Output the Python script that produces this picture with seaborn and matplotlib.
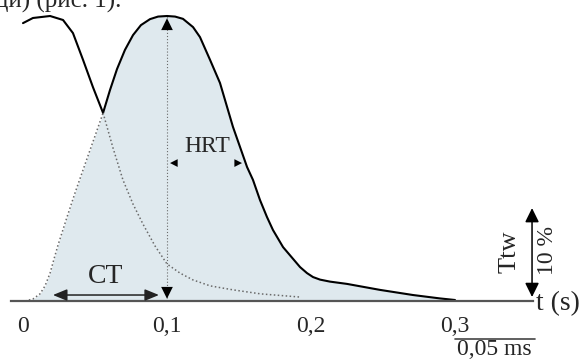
import matplotlib
matplotlib.use('Agg')
import matplotlib.pyplot as plt
import pandas as pd
import seaborn as sns

# Twitch being measured: time (s) and force (% of peak)
twitch_t = [0.0014, 0.0069, 0.0118, 0.0153, 0.0188, 0.0215, 0.0243, 0.0306, 0.0361,
            0.0417, 0.0451, 0.0500, 0.0556, 0.0604, 0.0653, 0.0708, 0.0764, 0.0819,
            0.0882, 0.0938, 0.1000, 0.1056, 0.1111, 0.1181, 0.1229, 0.1299, 0.1368,
            0.1458, 0.1556, 0.1597, 0.1646, 0.1694, 0.1736, 0.1806, 0.1924, 0.1972,
            0.2014, 0.2063, 0.2132, 0.2250, 0.2479, 0.2708, 0.2896, 0.3000]
twitch_f = [0.0, 0.7, 2.5, 5.3, 9.8, 14.7, 19.6, 29.5, 37.9,
            46.0, 50.9, 57.9, 66.0, 74.0, 81.4, 88.1, 93.3, 96.8,
            98.9, 99.8, 100.0, 99.8, 99.0, 96.1, 92.6, 84.6, 76.5,
            61.1, 47.0, 42.5, 35.4, 29.5, 24.9, 18.9, 11.9, 9.8,
            8.4, 7.5, 6.8, 6.0, 3.9, 2.1, 0.9, 0.35]

# Relaxation of the preceding twitch
prev_t = [0.000, 0.0069, 0.0188, 0.0278, 0.0347, 0.0417, 0.0486, 0.0556,
          0.0625, 0.0694, 0.0764, 0.0833, 0.0917, 0.100, 0.109, 0.118,
          0.130, 0.146, 0.165, 0.192]
prev_f = [97.5, 99.3, 100.0, 98.6, 94.0, 84.6, 75.0, 66.0,
          53.7, 42.5, 34.0, 27.0, 19.3, 13.0, 9.8, 7.4,
          5.3, 3.9, 2.5, 1.4]

cross_t = 0.0556         # where the two curves meet
peak_t = 0.100           # time of peak
ct_start = 0.0208        # contraction time arrow start
hrt_start = 0.1021       # half relaxation time arrow
hrt_end = 0.1521
tick_pos = [0, 0.1, 0.2, 0.3]
tick_labels = ['0', '0,1', '0,2', '0,3']
minor_pos = [0.05, 0.15, 0.25]

df_tw = pd.DataFrame({'t': twitch_t, 'f': twitch_f})
df_prev = pd.DataFrame({'t': prev_t, 'f': prev_f})

sns.set_style('white')
plt.rcParams['font.family'] = ['Liberation Serif', 'DejaVu Serif']

fig = plt.figure(figsize=(5.83, 3.61), dpi=100)
ax = fig.add_axes([0, 0, 1, 1])
ax.set_xlim(-23 / 1440, 560 / 1440)
ax.set_ylim(-60 / 2.85, 301 / 2.85)

fill_col = '#dfe9ee'
dot_col = '#6a6a6a'
ax.fill_between(df_tw['t'], 0, df_tw['f'], color=fill_col, lw=0, zorder=0)

# solid and dotted parts of both curves
sns.lineplot(data=df_tw[df_tw['t'] <= cross_t], x='t', y='f', ax=ax,
             color=dot_col, lw=1.1, linestyle=(0, (1, 1.6)))
sns.lineplot(data=df_tw[df_tw['t'] >= cross_t], x='t', y='f', ax=ax,
             color='black', lw=1.5)
sns.lineplot(data=df_prev[df_prev['t'] <= cross_t], x='t', y='f', ax=ax,
             color='black', lw=1.5)
sns.lineplot(data=df_prev[df_prev['t'] >= cross_t], x='t', y='f', ax=ax,
             color=dot_col, lw=1.1, linestyle=(0, (1, 1.6)))

# dotted line at peak
ax.plot([peak_t, peak_t], [0, 100], color=dot_col, lw=0.8, linestyle=(0, (1, 1.8)))

head_big = dict(arrowstyle='-|>,head_length=0.85,head_width=0.42',
                color='black', lw=0, shrinkA=0, shrinkB=0)
ax.annotate('', xy=(peak_t, 99.2), xytext=(peak_t, 90), arrowprops=head_big)
ax.annotate('', xy=(peak_t, 0.8), xytext=(peak_t, 10), arrowprops=head_big)

# CT
ax.annotate('', xy=(ct_start, 2.1), xytext=(0.0944, 2.1),
            arrowprops=dict(arrowstyle='<|-|>,head_length=0.85,head_width=0.35',
                            color='#222222', lw=1.1, shrinkA=0, shrinkB=0))
ax.text(0.057, 8.6, 'CT', ha='center', va='center', fontsize=20)

# HRT
head_small = dict(arrowstyle='-|>,head_length=0.55,head_width=0.28',
                  color='black', lw=0, shrinkA=0, shrinkB=0)
ax.annotate('', xy=(hrt_start, 48.4), xytext=(0.11, 48.4), arrowprops=head_small)
ax.annotate('', xy=(hrt_end, 48.4), xytext=(0.143, 48.4), arrowprops=head_small)
ax.text(0.1278, 54.2, 'HRT', ha='center', va='center', fontsize=17)

# Tw scale arrow
ax.annotate('', xy=(0.3535, 32.6), xytext=(0.3535, 1.4),
            arrowprops=dict(arrowstyle='<|-|>,head_length=0.85,head_width=0.42',
                            color='black', lw=1.1, shrinkA=0, shrinkB=0))
ax.text(0.3380, 17.2, 'Ttw', rotation=90, ha='center', va='center', fontsize=19)
ax.text(0.3640, 17.6, '10 %', rotation=90, ha='center', va='center', fontsize=17)
ax.text(0.3565, -0.9, 't (s)', ha='left', va='center', fontsize=20)

# time scale bar
ax.plot([0.300, 0.3556], [-13.3, -13.3], color='#444444', lw=1.2)
ax.text(0.3275, -17.0, '0,05 ms', ha='center', va='center', fontsize=17)

# x axis
for s in ['top', 'right', 'left']:
    ax.spines[s].set_visible(False)
ax.spines['bottom'].set_position(('data', 0))
ax.spines['bottom'].set_bounds(-0.0083, 0.354)
ax.spines['bottom'].set_color('#555555')
ax.spines['bottom'].set_linewidth(1.6)
ax.set_xticks(tick_pos, tick_labels)
ax.set_xticks(minor_pos, minor=True)
ax.set_yticks([])
ax.tick_params(axis='x', which='major', length=6, width=1, color='#555555',
               direction='out', pad=5, labelsize=17)
ax.tick_params(axis='x', which='minor', length=3.5, width=1, color='#555555',
               direction='out')
ax.set_xlabel('')
ax.set_ylabel('')

# cut-off line of text above the figure
fig.text(-0.008, 1 - 8 / 361, 'ци) (рис. 1).', ha='left', va='baseline', fontsize=18)

fig.savefig('out.png', dpi=100)
